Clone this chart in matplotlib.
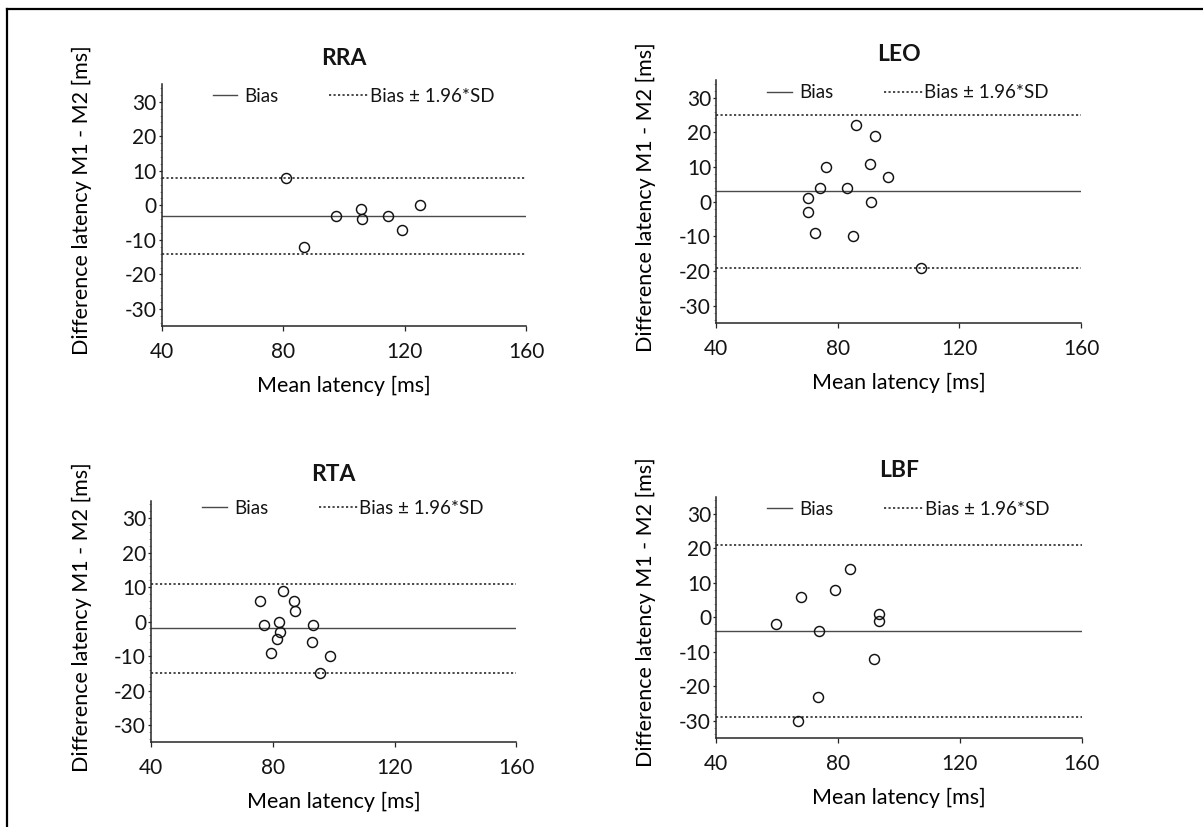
import matplotlib
matplotlib.use("Agg")
import matplotlib.pyplot as plt
from matplotlib.lines import Line2D
from matplotlib.ticker import MultipleLocator

plt.rcParams["font.family"] = "Lato"
plt.rcParams["text.color"] = "#141414"
plt.rcParams["axes.unicode_minus"] = False

# Bland-Altman data: mean latency vs difference (M1 - M2), per muscle
rra_mean = [81, 87, 97.5, 105.5, 106, 114.4, 119.3, 125]
rra_diff = [8, -12, -3, -1, -4, -3, -7, 0]
rra_bias, rra_low, rra_high = -3, -14, 8

leo_mean = [86, 92.3, 76, 90.5, 96.4, 74, 83, 70.3, 70.3, 91, 72.6, 85, 107.5]
leo_diff = [22, 19, 10, 11, 7, 4, 4, 1, -3, 0, -9, -10, -19]
leo_bias, leo_low, leo_high = 3, -19, 25

rta_mean = [83.4, 75.8, 86.9, 87.4, 77.2, 81.9, 82.4, 81.3, 79.4, 93.3, 92.8, 98.9, 95.5]
rta_diff = [9, 6, 6, 3, -1, 0, -3, -5, -9, -1, -6, -10, -15]
rta_bias, rta_low, rta_high = -2, -15, 11

lbf_mean = [83.8, 78.9, 67.9, 59.8, 73.8, 93.4, 93.4, 91.8, 73.3, 66.8]
lbf_diff = [14, 8, 6, -2, -4, 1, -1, -12, -23, -30]
lbf_bias, lbf_low, lbf_high = -4, -29, 21

x_ticks = [40, 80, 120, 160]
y_ticks = [-30, -20, -10, 0, 10, 20, 30]

W, H = 1203, 827
fig = plt.figure(figsize=(W / 100, H / 100), dpi=100)


def px_axes(left, top, right, bottom):
    return fig.add_axes([left / W, 1 - bottom / H, (right - left) / W, (bottom - top) / H])


def draw_panel(ax, title, mean, diff, bias, low, high, legend_y, ylabel_dx):
    ink = "#262626"
    dots = (0, (1.3, 1.4))
    bias_line = ax.axhline(bias, color="#4a4a4a", lw=1.0, zorder=1)
    loa_line = ax.axhline(high, color="#2a2a2a", lw=1.2, ls=dots, zorder=1)
    ax.axhline(low, color="#2a2a2a", lw=1.2, ls=dots, zorder=1)
    ax.plot(mean, diff, ls="none", marker="o", ms=7.2, mfc="none",
            mec="#111111", mew=1.05, zorder=3)

    ax.set_xlim(40, 160)
    ax.set_ylim(-35, 35)
    ax.set_xticks(x_ticks)
    ax.set_yticks(y_ticks)
    ax.yaxis.set_minor_locator(MultipleLocator(2))
    for side in ("top", "right"):
        ax.spines[side].set_visible(False)
    for side in ("left", "bottom"):
        ax.spines[side].set_color(ink)
        ax.spines[side].set_linewidth(1.1)
    ax.tick_params(axis="x", which="major", direction="out", length=3.5,
                   width=0.9, color=ink, labelsize=15, pad=8, labelcolor="#141414")
    ax.tick_params(axis="y", which="major", direction="out", length=2.5,
                   width=0.9, color=ink, labelsize=15, pad=1.2, labelcolor="#141414")
    ax.tick_params(axis="y", which="minor", direction="out", length=1.2,
                   width=0.5, color="#777777")

    ax.set_title(title, fontsize=16.5, fontweight="bold", pad=14)
    ax.set_xlabel("Mean latency [ms]", fontsize=15.5, labelpad=10)
    ax.set_ylabel("Difference latency M1 - M2 [ms]", fontsize=15.5)
    ax.yaxis.set_label_coords(ylabel_dx, 0.52)
    ax.yaxis.label.set_va("center")

    common = dict(loc="center left", frameon=False, fontsize=13.5,
                  borderpad=0, borderaxespad=0)
    leg1 = ax.legend([bias_line], ["Bias"], bbox_to_anchor=(0.14, legend_y),
                     handlelength=1.3, handletextpad=0.4, **common)
    ax.add_artist(leg1)
    ax.legend([loa_line], ["Bias ± 1.96*SD"], bbox_to_anchor=(0.46, legend_y),
              handlelength=2.1, handletextpad=0.05, **common)


ax_rra = px_axes(161.7, 84.4, 526.0, 326.3)
ax_leo = px_axes(716.2, 80.3, 1081.0, 323.0)
ax_rta = px_axes(151.2, 500.8, 516.3, 742.3)
ax_lbf = px_axes(716.2, 496.8, 1081.5, 737.9)

draw_panel(ax_rra, "RRA", rra_mean, rra_diff, rra_bias, rra_low, rra_high, 0.952, -0.219)
draw_panel(ax_leo, "LEO", leo_mean, leo_diff, leo_bias, leo_low, leo_high, 0.949, -0.192)
draw_panel(ax_rta, "RTA", rta_mean, rta_diff, rta_bias, rta_low, rta_high, 0.969, -0.19)
draw_panel(ax_lbf, "LBF", lbf_mean, lbf_diff, lbf_bias, lbf_low, lbf_high, 0.948, -0.192)

# page frame: top and left edges only
fig.add_artist(Line2D([7 / W, 1], [1 - 9 / H, 1 - 9 / H], color="black", lw=1.6))
fig.add_artist(Line2D([7 / W, 7 / W], [0, 1 - 9 / H], color="black", lw=1.6))

fig.savefig("out.png", dpi=100)
